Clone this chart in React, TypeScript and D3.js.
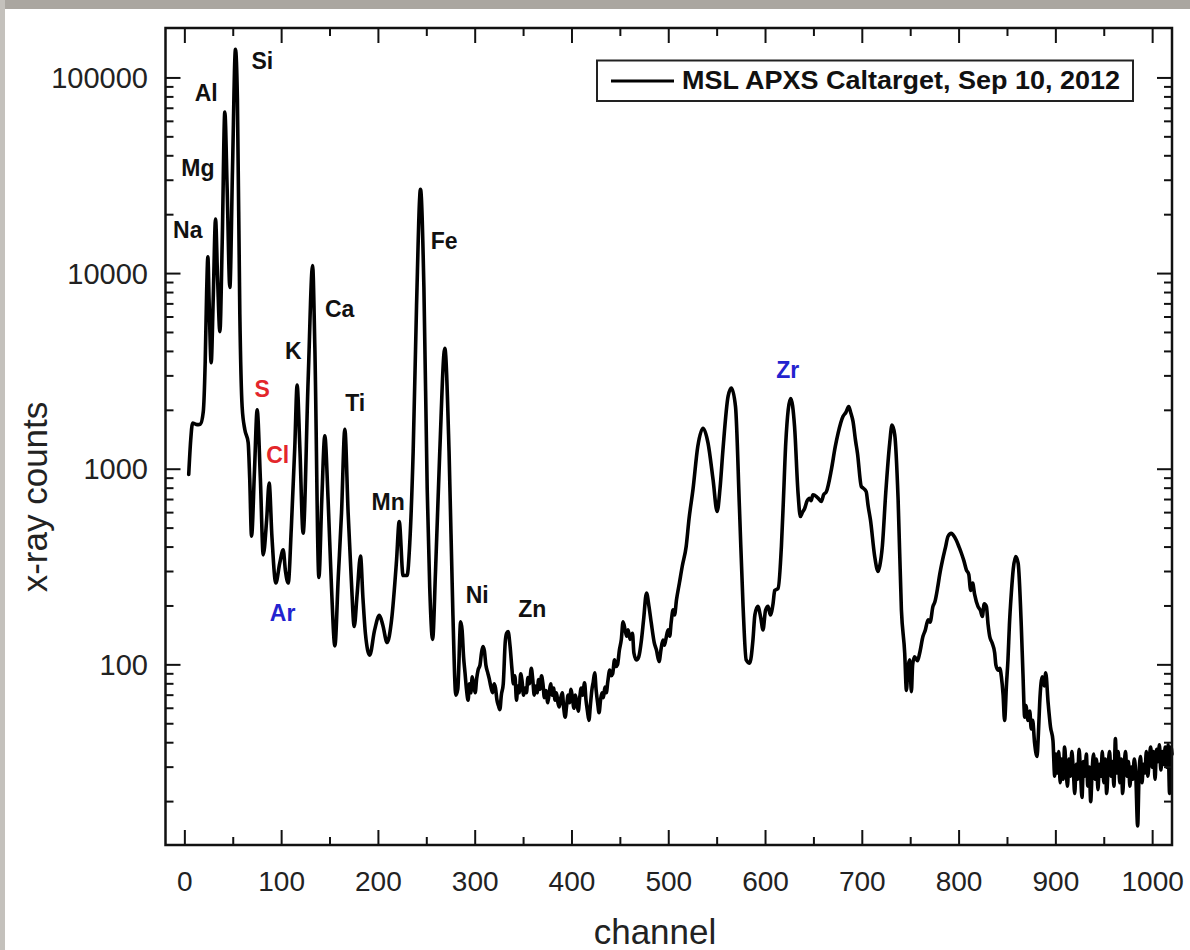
import React from 'react';
import * as d3 from 'd3';

// ---- spectrum (channel, x-ray counts) ----
const peakChannel = [
  4, 6, 8, 11, 14, 16, 19, 21, 22.5, 23.8, 25, 27.2, 29.3, 31.7, 33.8, 36.2, 38.6, 41.3, 43.7, 46.5,
  49.2, 52.3, 54.3, 56.8, 59.2, 62, 65.4, 67, 68.9, 72, 74.7, 78, 81, 84.5, 87.1, 90, 94, 98, 101.6, 104,
  106.8, 110, 113.6, 116, 118.8, 122.2, 127.4, 132, 134.3, 138.5, 141.5, 144.6, 148, 151.5, 155, 158.5, 161.9, 165.3, 168.7, 172,
  175, 178, 181.5, 184, 186.6, 191, 196, 201, 204.5, 209, 213.5, 218.7, 221.5, 225.5, 229.6, 232.4, 235.9, 239.4, 243.5, 247,
  250.4, 253, 256, 259, 263.4, 268.6, 273, 277, 280, 282,
];
const peakCounts = [
  940, 1400, 1720, 1700, 1690, 1700, 1960, 3500, 8000, 12200, 7400, 3500, 7400, 19000, 9500, 5050, 14500, 67000, 27200, 8500,
  33500, 140000, 78000, 6200, 2080, 1590, 1370, 900, 455, 1000, 2010, 900, 365, 550, 850, 450, 262, 330, 387, 300,
  262, 500, 1300, 2690, 1300, 471, 2860, 11000, 4240, 280, 700, 1480, 700, 250, 125, 280, 600, 1600, 600, 272,
  157, 230, 360, 220, 144, 112, 150, 179, 160, 130, 168, 340, 540, 286, 286, 420, 1230, 6860, 27000, 8500,
  800, 250, 135, 300, 1230, 4150, 1230, 179, 70, 75,
];

const valleyChannel = [
  285, 286.5, 288, 289.5, 291, 292.7, 294, 295.5, 297, 298.5, 300, 301.5, 303, 305, 306.5, 308, 309.5, 311, 313, 314.5,
  316, 318, 319.5, 321, 322.5, 324, 325.5, 327, 329, 331, 332.5, 334, 336, 338, 339.5, 341, 342.7, 344, 345.5, 347,
  348.5, 350, 351.5, 353, 354.5, 356, 358, 359.5, 361, 362.5, 364, 365.5, 367, 368.5, 370, 371.5, 373, 375, 376.5, 378,
  379.5, 381, 382.5, 384, 385.5, 387, 388.5, 390, 391.5, 393, 394.5, 396, 397.5, 399, 400.5, 402, 403.5, 405, 406.5, 408,
  409.5, 411, 413, 414.5, 416, 417.5, 419, 420.5, 422, 423.5, 425, 426.5, 428, 429.5, 431, 432.5, 434, 435.5, 437, 439,
  440.5, 442, 444, 445.5, 447, 449, 451, 452.8, 455, 456.5, 458, 460, 462.5, 464, 466.6, 469, 471.8, 474, 477, 479.5,
  482, 485, 487.3, 490, 492, 494, 495.5, 497, 499.3, 501, 502.5, 504.5, 506, 508, 511, 514, 518, 521,
];
const valleyCounts = [
  166, 150, 110, 91, 75, 66, 80, 72, 87, 78, 72, 85, 94, 100, 115, 124, 118, 100, 91, 85,
  78, 72, 80, 76, 66, 62, 59, 70, 80, 130, 145, 148, 125, 95, 80, 88, 66, 78, 72, 90,
  82, 70, 76, 72, 86, 80, 96, 84, 70, 78, 72, 84, 75, 88, 80, 68, 74, 64, 72, 80,
  70, 76, 66, 72, 64, 61, 68, 72, 60, 54, 62, 70, 64, 75, 68, 60, 70, 64, 58, 68,
  76, 70, 81, 66, 58, 52, 62, 74, 82, 91, 74, 64, 57, 66, 72, 68, 77, 72, 82, 94,
  88, 90, 106, 98, 100, 119, 135, 166, 150, 140, 151, 135, 145, 115, 106, 110, 134, 170, 233, 200,
  163, 130, 119, 104, 120, 134, 126, 135, 151, 140, 165, 191, 180, 215, 262, 320, 403, 560,
];

const highChannel = [
  525, 530, 535.4, 540.6, 545.8, 550, 553,
  556, 561.3, 564.7, 569, 573, 576.8, 580, 583.7, 587, 589, 592, 595, 597.4, 600, 602.6, 605, 607.8, 609.5, 613, 616.4,
  618.5, 620.9, 626, 630, 633.6, 636, 638, 640.5, 643, 645.7, 647, 649, 652.6, 655, 657.7, 660, 662.9, 668, 672, 675, 680, 683,
  686, 688, 690.4, 693, 695, 699, 701, 704, 706, 708.4, 712.8, 716.3, 718, 720.7, 724.2, 728.3, 730.7, 733.5, 737, 740.4,
  743.8, 745.6, 747, 749, 750.7, 752, 754, 757, 759.3, 762.7, 765, 768, 770, 773, 775, 778, 780, 783, 786, 788.5,
  792, 794, 797, 800, 802.4, 805, 807.5, 810, 812, 814, 816, 819.5, 822, 824, 826, 828.2, 830, 831.6, 834, 836.8,
  838, 840.3, 842, 843.7, 845.5, 847, 849, 850.5, 852, 854, 856, 858.5, 861, 864.3, 866, 867.8, 869, 871.2, 873, 874.6,
  876, 878, 880.5, 882, 883.3, 886, 888, 889.5, 892, 894.5, 897, 898.8,
];
const highCounts = [
  785, 1306, 1620, 1360, 883, 608, 800,
  1255, 2355, 2600, 2085, 646, 199, 106, 102, 134, 180, 199, 175, 151, 190, 199, 180, 206, 240, 246, 403,
  700, 1360, 2300, 1650, 755, 573, 600, 632, 690, 711, 690, 740, 725, 705, 684, 740, 768, 993, 1300, 1530, 1860, 1950,
  2090, 1950, 1755, 1400, 1208, 816, 800, 768, 650, 551, 358, 300, 320, 403, 755, 1360, 1680, 1500, 700, 191,
  115, 74, 95, 106, 73, 100, 110, 105, 115, 140, 150, 170, 165, 199, 210, 251, 290, 345, 400, 453,
  470, 460, 435, 400, 372, 340, 306, 290, 240, 262, 230, 199, 190, 177, 205, 199, 160, 140, 130, 115,
  100, 94, 96, 87, 70, 52, 80, 106, 160, 233, 310, 358, 331, 157, 90, 54, 62, 52, 58, 47,
  52, 40, 34, 45, 64, 87, 78, 91, 64, 48, 41, 27,
];

const tailChannel = [
  900, 901.5, 903, 904.5, 906, 907.5, 909, 910.5, 912, 913.5, 915, 916.5, 918, 919.5, 921, 922.5, 924, 925.5, 927, 928.5,
  930, 931.5, 933, 934.5, 936, 937.5, 939, 940.5, 942, 943.5, 945, 946.5, 948, 949.5, 951, 952.5, 954, 955.5, 957, 958.5,
  960, 961.5, 963, 964.5, 966, 967.5, 969, 970.5, 972, 973.5, 975, 976.5, 978, 979.5, 981, 982.5, 984.5, 986, 987.5, 989,
  990.5, 992, 993.5, 995, 996.5, 998, 999.5, 1001, 1002.5, 1004, 1005.5, 1007, 1008.5, 1010, 1011.5, 1013, 1014.5, 1016, 1017.5, 1019,
  1020,
];
const tailCounts = [
  35, 28, 36, 25, 33, 26, 38, 30, 24, 33, 27, 36, 29, 22, 31, 26, 37, 28, 21, 32,
  27, 35, 24, 30, 20, 29, 35, 26, 33, 23, 31, 27, 36, 25, 33, 22, 30, 36, 27, 32,
  24, 42, 28, 36, 25, 33, 22, 30, 36, 27, 32, 24, 30, 26, 33, 28, 15, 28, 34, 25,
  31, 28, 36, 27, 33, 38, 30, 36, 26, 37, 32, 39, 29, 36, 31, 38, 30, 39, 22, 38,
  35,
];

// ---- axes ----
const xMajorTicks = [0, 100, 200, 300, 400, 500, 600, 700, 800, 900, 1000];
const xMinorTicks = [50, 150, 250, 350, 450, 550, 650, 750, 850, 950];
const yMajorTicks = [100, 1000, 10000, 100000];
const yTickLabels = ['100', '1000', '10000', '100000'];

// ---- element annotations (anchored in data units) ----
const elementNames = ['Na', 'Mg', 'Al', 'Si', 'S', 'Cl', 'Ar', 'K', 'Ca', 'Ti', 'Mn', 'Fe', 'Ni', 'Zn', 'Zr'];
const elementChannel = [3, 13.5, 22, 80, 80, 96, 101, 112, 160, 176, 210, 268, 302, 359, 623];
const elementCounts = [15200, 31600, 76400, 111000, 2340, 1070, 168, 3660, 6010, 1990, 620, 13400, 207, 176, 2930];
const elementGroup = ['k', 'k', 'k', 'k', 'r', 'r', 'b', 'k', 'k', 'k', 'k', 'k', 'k', 'k', 'b'];

const legendLabel = 'MSL APXS Caltarget, Sep 10, 2012';

const W = 1190;
const H = 950;
const PL = 165.5;
const PR = 1172;
const PT = 28;
const PB = 845;
const FONT = '"Liberation Sans", Arial, Helvetica, sans-serif';
const groupColor: Record<string, string> = { k: '#111111', r: '#e3262b', b: '#2323cf' };

export default function App() {
  const x = d3.scaleLinear().domain([-20, 1020]).range([PL, PR]);
  const y = d3.scaleLog().domain([12, 180000]).range([PB, PT]);

  const allChannel = [...peakChannel, ...valleyChannel, ...highChannel, ...tailChannel];
  const allCounts = [...peakCounts, ...valleyCounts, ...highCounts, ...tailCounts];
  const pts: [number, number][] = allChannel.map((c, i) => [c, allCounts[i]]);
  const line = d3
    .line<[number, number]>()
    .x((d) => x(d[0]))
    .y((d) => y(d[1]))
    .curve(d3.curveMonotoneX);

  const [yMin, yMax] = y.domain();
  const yMinor: number[] = [];
  for (let e = 1; e <= 5; e++) {
    for (let k = 2; k <= 9; k++) {
      const v = k * Math.pow(10, e);
      if (v >= yMin && v <= yMax) yMinor.push(v);
    }
  }

  const MAJ = 15;
  const MIN = 8;
  const tickStroke = { stroke: '#111', strokeWidth: 2 };

  return (
    <svg
      width={W}
      height={H}
      viewBox={`0 0 ${W} ${H}`}
      style={{ position: 'absolute', left: 0, top: 0, background: '#fff' }}
    >
      <rect x={0} y={0} width={W} height={H} fill="#ffffff" />
      {/* photo border */}
      <rect x={0} y={0} width={W} height={9} fill="#aaa6a0" />
      <rect x={0} y={0} width={5} height={H} fill="#c4c1bc" />

      {/* data line */}
      <g>
        <path
          d={line(pts) || ''}
          fill="none"
          stroke="#000"
          strokeWidth={3.6}
          strokeLinejoin="round"
          strokeLinecap="round"
        />
      </g>

      {/* frame */}
      <rect x={PL} y={PT} width={PR - PL} height={PB - PT} fill="none" stroke="#111" strokeWidth={2.5} />

      {/* x ticks bottom & top */}
      {xMajorTicks.map((t) => (
        <g key={'xm' + t}>
          <line x1={x(t)} x2={x(t)} y1={PB} y2={PB - MAJ} {...tickStroke} />
          <line x1={x(t)} x2={x(t)} y1={PT} y2={PT + MAJ} {...tickStroke} />
          <text x={x(t)} y={891} textAnchor="middle" fontFamily={FONT} fontSize={28} fill="#222">
            {t}
          </text>
        </g>
      ))}
      {xMinorTicks.map((t) => (
        <g key={'xn' + t}>
          <line x1={x(t)} x2={x(t)} y1={PB} y2={PB - MIN} {...tickStroke} />
          <line x1={x(t)} x2={x(t)} y1={PT} y2={PT + MIN} {...tickStroke} />
        </g>
      ))}

      {/* y ticks left & right */}
      {yMajorTicks.map((t, i) => (
        <g key={'ym' + t}>
          <line x1={PL} x2={PL + MAJ} y1={y(t)} y2={y(t)} {...tickStroke} />
          <line x1={PR} x2={PR - MAJ} y1={y(t)} y2={y(t)} {...tickStroke} />
          <text x={148} y={y(t) + 10} textAnchor="end" fontFamily={FONT} fontSize={29} fill="#222">
            {yTickLabels[i]}
          </text>
        </g>
      ))}
      {yMinor.map((t) => (
        <g key={'yn' + t}>
          <line x1={PL} x2={PL + MIN} y1={y(t)} y2={y(t)} {...tickStroke} />
          <line x1={PR} x2={PR - MIN} y1={y(t)} y2={y(t)} {...tickStroke} />
        </g>
      ))}

      {/* axis titles */}
      <text x={655} y={944} textAnchor="middle" fontFamily={FONT} fontSize={35} fill="#222">
        channel
      </text>
      <text
        transform="translate(47,497) rotate(-90)"
        textAnchor="middle"
        fontFamily={FONT}
        fontSize={35}
        fill="#222"
      >
        x-ray counts
      </text>

      {/* element labels */}
      {elementNames.map((n, i) => (
        <text
          key={n}
          x={x(elementChannel[i])}
          y={y(elementCounts[i])}
          textAnchor="middle"
          fontFamily={FONT}
          fontWeight="bold"
          fontSize={23}
          fill={groupColor[elementGroup[i]]}
        >
          {n}
        </text>
      ))}

      {/* legend */}
      <rect x={597} y={60.5} width={536} height={40.5} fill="#fff" stroke="#222" strokeWidth={2} />
      <line x1={611} x2={674} y1={81} y2={81} stroke="#000" strokeWidth={3.2} />
      <text
        x={682}
        y={89}
        fontFamily={FONT}
        fontWeight="bold"
        fontSize={25}
        fill="#111"
        textLength={438}
        lengthAdjust="spacingAndGlyphs"
      >
        {legendLabel}
      </text>
    </svg>
  );
}
